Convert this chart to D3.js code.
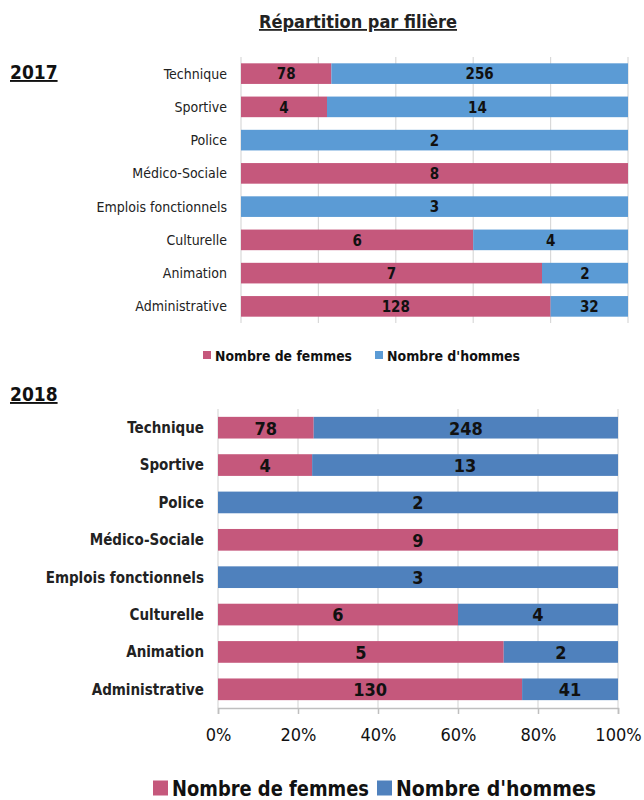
<!DOCTYPE html>
<html>
<head>
<meta charset="utf-8">
<script src="https://cdn.jsdelivr.net/npm/d3@7"></script>
<style>
  body { margin: 0; background: #fff; }
  svg { font-family: "Liberation Sans Narrow", "DejaVu Sans Condensed", "Open Sans", sans-serif; }
</style>
</head>
<body>
<svg id="chart" width="644" height="800"></svg>
<script>
// categories, top to bottom
var categories = ["Technique", "Sportive", "Police", "Médico-Sociale", "Emplois fonctionnels",
                  "Culturelle", "Animation", "Administrative"];
var femmes2017 = [78, 4, 0, 8, 0, 6, 7, 128];
var hommes2017 = [256, 14, 2, 0, 3, 4, 2, 32];
var femmes2018 = [78, 4, 0, 9, 0, 6, 5, 130];
var hommes2018 = [248, 13, 2, 0, 3, 4, 2, 41];
var series = ["Nombre de femmes", "Nombre d'hommes"];
var ticks = [0, 0.2, 0.4, 0.6, 0.8, 1];

var svg = d3.select("#chart");

// Title
svg.append("text").attr("x", 358).attr("y", 28).attr("text-anchor", "middle")
    .attr("font-size", 18).attr("font-weight", "bold").attr("text-decoration", "underline")
    .attr("fill", "#222").text("Répartition par filière");

function panel(opts) {
    var g = svg.append("g");
    var x = d3.scaleLinear().domain([0, 1]).range([opts.x0, opts.x1]);
    var y = d3.scaleBand().domain(categories).range([opts.y0, opts.y1]).paddingInner(opts.pad).paddingOuter(opts.pad / 2);

    var rows = categories.map(function(c, i) {
        var t = opts.f[i] + opts.h[i];
        return { cat: c, f: opts.f[i], h: opts.h[i], pf: opts.f[i] / t };
    });

    // year label
    svg.append("text").attr("x", 10).attr("y", opts.yearY).attr("font-size", 19)
        .attr("font-weight", "bold").attr("text-decoration", "underline").attr("fill", "#111").text(opts.year);

    // gridlines
    g.selectAll(".grid").data(ticks).enter().append("line")
        .attr("x1", function(d) { return x(d); }).attr("x2", function(d) { return x(d); })
        .attr("y1", opts.y0).attr("y2", opts.y1)
        .attr("stroke", "#d9d9d9").attr("stroke-width", 1.2);

    // bars
    var bar = g.selectAll(".row").data(rows).enter().append("g");
    bar.append("rect").attr("x", x(0)).attr("y", function(d) { return y(d.cat); })
        .attr("width", function(d) { return x(d.pf) - x(0); }).attr("height", y.bandwidth())
        .attr("fill", opts.cf);
    bar.append("rect").attr("x", function(d) { return x(d.pf); }).attr("y", function(d) { return y(d.cat); })
        .attr("width", function(d) { return x(1) - x(d.pf); }).attr("height", y.bandwidth())
        .attr("fill", opts.ch);

    // values
    bar.filter(function(d) { return d.f > 0; }).append("text")
        .attr("x", function(d) { return (x(0) + x(d.pf)) / 2; })
        .attr("y", function(d) { return y(d.cat) + y.bandwidth() / 2; })
        .attr("dy", "0.38em").attr("text-anchor", "middle").attr("font-size", opts.vs)
        .attr("font-weight", "bold").attr("fill", "#111").text(function(d) { return d.f; });
    bar.filter(function(d) { return d.h > 0; }).append("text")
        .attr("x", function(d) { return (x(d.pf) + x(1)) / 2; })
        .attr("y", function(d) { return y(d.cat) + y.bandwidth() / 2; })
        .attr("dy", "0.38em").attr("text-anchor", "middle").attr("font-size", opts.vs)
        .attr("font-weight", "bold").attr("fill", "#111").text(function(d) { return d.h; });

    // category labels
    g.selectAll(".cat").data(rows).enter().append("text")
        .attr("x", opts.x0 - 14).attr("y", function(d) { return y(d.cat) + y.bandwidth() / 2; })
        .attr("dy", "0.36em").attr("text-anchor", "end").attr("font-size", opts.ls)
        .attr("font-weight", opts.lw).attr("fill", "#222").text(function(d) { return d.cat; });

    // x axis
    if (opts.axis) {
        var ax = g.append("g").attr("transform", "translate(0," + opts.y1 + ")")
            .call(d3.axisBottom(x).tickValues(ticks).tickFormat(d3.format(".0%")).tickSize(6).tickPadding(14));
        ax.select(".domain").attr("stroke", "#bfbfbf").attr("stroke-width", 1.5);
        ax.selectAll(".tick line").attr("stroke", "#bfbfbf").attr("stroke-width", 1.5);
        ax.selectAll("text").attr("font-size", 18).attr("fill", "#111")
            .attr("font-family", "\"Liberation Sans Narrow\", \"DejaVu Sans Condensed\", sans-serif");
    }

    // legend
    var lg = svg.append("g");
    series.forEach(function(s, i) {
        lg.append("rect").attr("x", opts.legX[i]).attr("y", opts.legY - opts.sq / 2 - 1)
            .attr("width", opts.sq).attr("height", opts.sq).attr("fill", i === 0 ? opts.cf : opts.ch);
        lg.append("text").attr("x", opts.legX[i] + opts.sq + 4).attr("y", opts.legY)
            .attr("dy", "0.35em").attr("font-size", opts.lgs).attr("font-weight", "bold")
            .attr("textLength", opts.lgw[i]).attr("lengthAdjust", "spacingAndGlyphs")
            .attr("fill", "#111").text(s);
    });
}

panel({
    year: "2017", yearY: 79,
    f: femmes2017, h: hommes2017,
    x0: 241, x1: 628, y0: 57, y1: 323, pad: 0.38,
    cf: "#C5587C", ch: "#5B9BD5",
    vs: 15, ls: 14, lw: "normal", axis: false,
    legX: [203, 375], legY: 356, sq: 8, lgs: 14, lgw: [137, 133]
});

panel({
    year: "2018", yearY: 401,
    f: femmes2018, h: hommes2018,
    x0: 218, x1: 618, y0: 409, y1: 708, pad: 0.42,
    cf: "#C5587C", ch: "#4F81BD",
    vs: 18, ls: 15, lw: "bold", axis: true,
    legX: [153, 377], legY: 789, sq: 15, lgs: 21, lgw: [197, 200]
});
</script>
</body>
</html>
